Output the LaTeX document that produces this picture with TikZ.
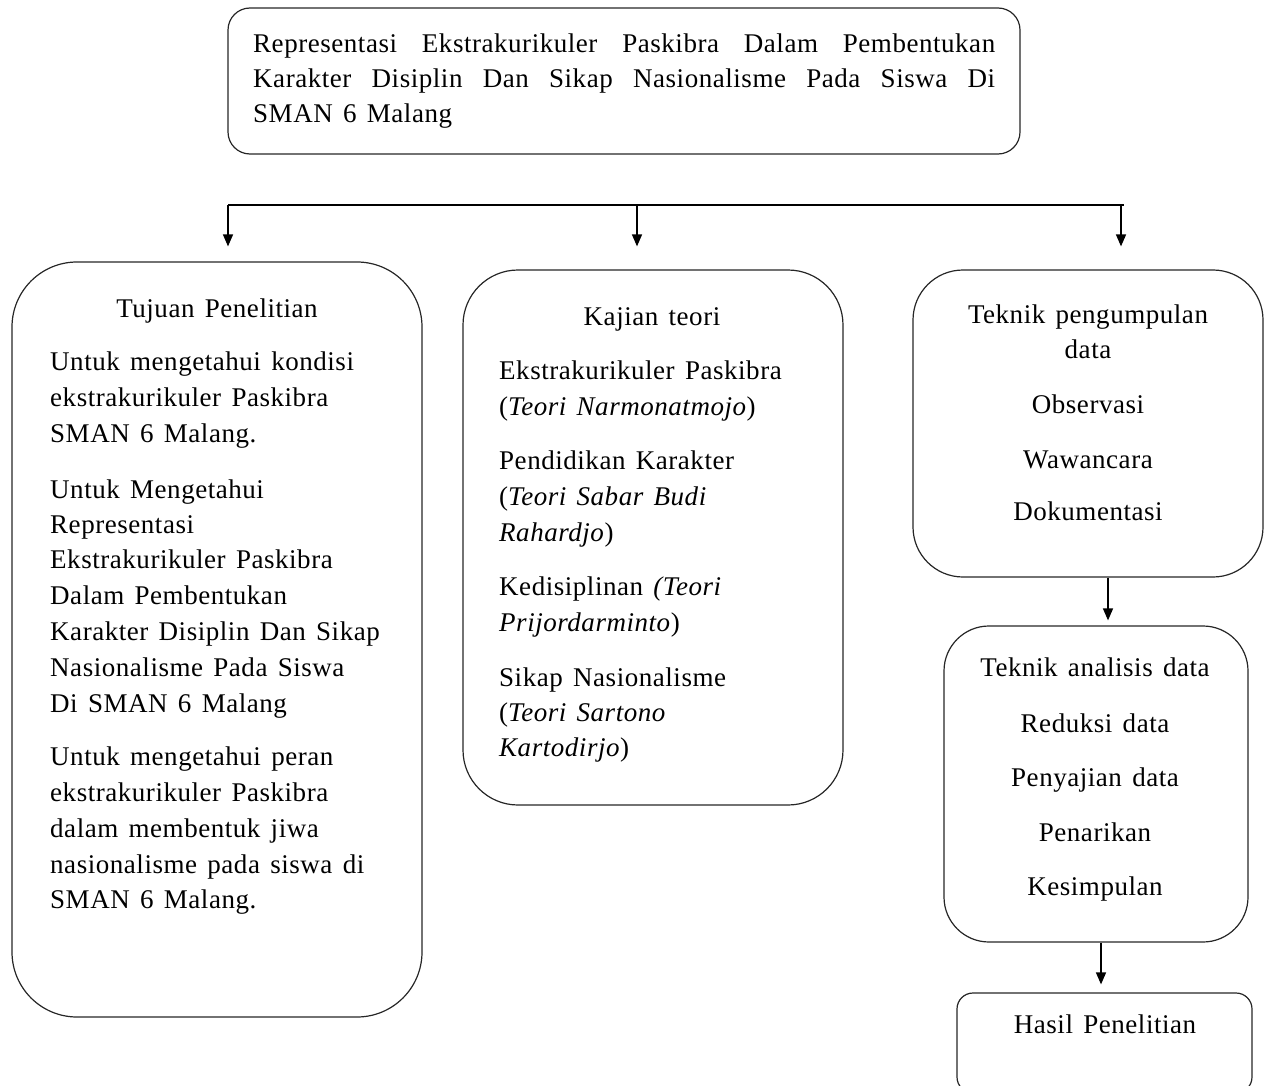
\documentclass[tikz,border=0pt]{standalone}
\usepackage{fontspec}
\setmainfont{Liberation Serif}[LetterSpace=2]
\usetikzlibrary{arrows.meta,calc}
\newcommand\diagfont{\fontsize{27pt}{35pt}\selectfont\spaceskip=10.3pt plus 27pt\relax}
\begin{document}
\begin{tikzpicture}[x=1pt,y=-1pt,
  box/.style={draw=black!85,line width=1.2pt,inner sep=0pt},
  txt/.style={inner sep=0pt,font=\diagfont},
  arr/.style={line width=1.4pt,-{Triangle[length=12pt,width=10pt]}},
  bus/.style={line width=1.4pt}]
\useasboundingbox (0,0) rectangle (1266,1086);
% boxes
\node[box,rounded corners=22pt,minimum width=792pt,minimum height=146pt] (title) at (624,81) {};
\node[box,rounded corners=65pt,minimum width=410pt,minimum height=755pt] (tuj) at (217,639.5) {};
\node[box,rounded corners=55pt,minimum width=380pt,minimum height=535pt] (kaj) at (653,537.5) {};
\node[box,rounded corners=50pt,minimum width=350pt,minimum height=307pt] (tpd) at (1088,423.5) {};
\node[box,rounded corners=45pt,minimum width=304pt,minimum height=316pt] (tad) at (1096,784) {};
\node[box,rounded corners=16pt,minimum width=295pt,minimum height=100pt] (has) at (1104.5,1043) {};
% title text
\node[txt,anchor=base west] (t1) at (253,53) {\makebox[742pt][s]{Representasi Ekstrakurikuler Paskibra Dalam Pembentukan}};
\node[txt,anchor=base west] (t2) at (253,88) {\makebox[742pt][s]{Karakter Disiplin Dan Sikap Nasionalisme Pada Siswa Di}};
\node[txt,anchor=base west] (t3) at (253,123) {SMAN 6 Malang};
% left
\node[txt,anchor=base] (lh) at (217,317) {Tujuan Penelitian};
\foreach \t/\y [count=\i] in {Untuk mengetahui kondisi/370, ekstrakurikuler Paskibra/406, SMAN 6 Malang./442,
  Untuk Mengetahui/498, Representasi/533, Ekstrakurikuler Paskibra/568, Dalam Pembentukan/604,
  Karakter Disiplin Dan Sikap/640, Nasionalisme Pada Siswa/676, Di SMAN 6 Malang/712,
  Untuk mengetahui peran/765, ekstrakurikuler Paskibra/801, dalam membentuk jiwa/837,
  nasionalisme pada siswa di/873, SMAN 6 Malang./908}
  \node[txt,anchor=base west] (l\i) at (50,\y) {\t};
% middle
\node[txt,anchor=base] (mh) at (652,325) {Kajian teori};
\node[txt,anchor=base west] (m1) at (499,379) {Ekstrakurikuler Paskibra};
\node[txt,anchor=base west] (m2) at (499,415) {(\textit{Teori Narmonatmojo})};
\node[txt,anchor=base west] (m3) at (499,469) {Pendidikan Karakter};
\node[txt,anchor=base west] (m4) at (499,505) {(\textit{Teori Sabar Budi}};
\node[txt,anchor=base west] (m5) at (499,541) {\textit{Rahardjo})};
\node[txt,anchor=base west] (m6) at (499,595) {Kedisiplinan \textit{(Teori}};
\node[txt,anchor=base west] (m7) at (499,631) {\textit{Prijordarminto})};
\node[txt,anchor=base west] (m8) at (499,686) {Sikap Nasionalisme};
\node[txt,anchor=base west] (m9) at (499,721) {(\textit{Teori Sartono}};
\node[txt,anchor=base west] (m10) at (499,756) {\textit{Kartodirjo})};
% right top
\foreach \t/\y [count=\i] in {Teknik pengumpulan/323, data/358, Observasi/413, Wawancara/468, Dokumentasi/520}
  \node[txt,anchor=base] (r\i) at (1088,\y) {\t};
% right mid
\foreach \t/\y [count=\i] in {Teknik analisis data/676, Reduksi data/732, Penyajian data/786, Penarikan/841, Kesimpulan/895}
  \node[txt,anchor=base] (s\i) at (1095,\y) {\t};
\node[txt,anchor=base] (hh) at (1105,1033) {Hasil Penelitian};
% connectors
\coordinate (bL) at (228,205);
\coordinate (bM) at (637,205);
\coordinate (bR) at (1121,205);
\coordinate (bE) at (1124,205);
\draw[bus] (bL) -- (bE);
\draw[arr,shorten >=15pt] (bL) -- (bL |- tuj.north);
\draw[arr,shorten >=23pt] (bM) -- (bM |- kaj.north);
\draw[arr,shorten >=23pt] (bR) -- (bR |- tpd.north);
\draw[arr,shorten >=5pt] ([xshift=20pt]tpd.south) -- ([xshift=20pt]tpd.south |- tad.north);
\draw[arr,shorten >=8pt] ([xshift=5pt]tad.south) -- ([xshift=5pt]tad.south |- has.north);
\end{tikzpicture}
\end{document}
